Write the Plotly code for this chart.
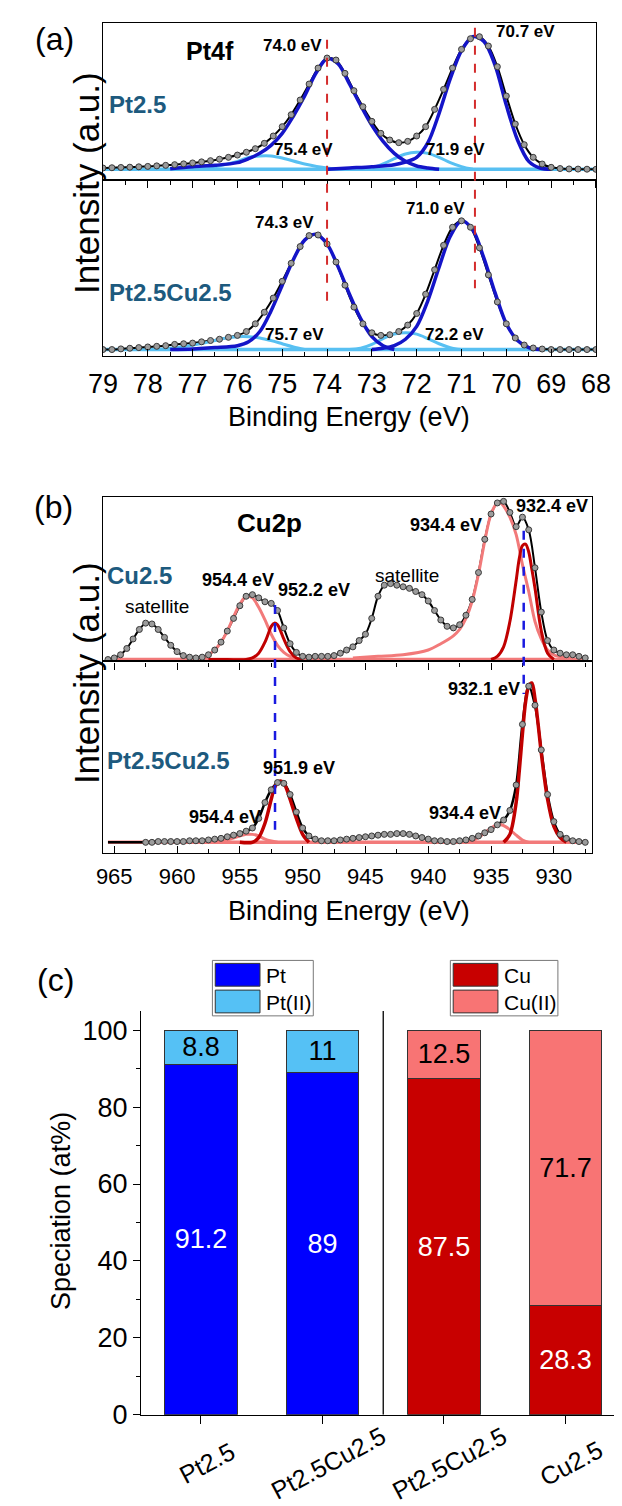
import plotly.graph_objects as go

W, H = 622, 1506
FONT = "Liberation Sans, Arial, sans-serif"
TEAL = "#1d5a7e"
DBLUE = "#1414c8"
LBLUE = "#58c0f2"
DRED = "#c00000"
SALMON = "#f27a7a"

# ---------------- data: panel (a) Pt4f ----------------
pt_energy = [79.0, 78.8, 78.6, 78.4, 78.2, 78.0, 77.8, 77.6, 77.4, 77.2, 77.0, 76.8, 76.6, 76.4,
             76.2, 76.0, 75.8, 75.6, 75.4, 75.2, 75.0, 74.8, 74.6, 74.4, 74.2, 74.0, 73.8, 73.6,
             73.4, 73.2, 73.0, 72.8, 72.6, 72.4, 72.2, 72.0, 71.8, 71.6, 71.4, 71.2, 71.0, 70.8,
             70.6, 70.4, 70.2, 70.0, 69.8, 69.6, 69.4, 69.2, 69.0, 68.8, 68.6, 68.4, 68.2, 68.0]
pt25_data = [0.010, 0.012, 0.014, 0.016, 0.019, 0.022, 0.026, 0.030, 0.035, 0.041, 0.048, 0.056,
             0.065, 0.076, 0.090, 0.107, 0.128, 0.155, 0.195, 0.250, 0.320, 0.410, 0.520, 0.640,
             0.760, 0.835, 0.820, 0.720, 0.590, 0.470, 0.360, 0.270, 0.220, 0.200, 0.210, 0.250,
             0.320, 0.450, 0.600, 0.760, 0.900, 0.980, 0.995, 0.925, 0.770, 0.550, 0.340, 0.185,
             0.090, 0.040, 0.015, 0.006, 0.003, 0.002, 0.001, 0.000]
pt25cu_data = [0.000, 0.000, 0.005, 0.010, 0.015, 0.020, 0.025, 0.030, 0.040, 0.045, 0.050, 0.060,
               0.070, 0.080, 0.095, 0.110, 0.140, 0.200, 0.290, 0.400, 0.530, 0.670, 0.800, 0.885,
               0.890, 0.820, 0.680, 0.500, 0.330, 0.200, 0.130, 0.110, 0.115, 0.140, 0.190, 0.280,
               0.430, 0.620, 0.810, 0.950, 1.000, 0.950, 0.790, 0.580, 0.370, 0.200, 0.090, 0.035,
               0.012, 0.004, 0.000, 0.000, 0.000, 0.000, 0.000, 0.000]

# Pt2.5 fit components
pt25_m1_x = [77.5, 77.0, 76.5, 76.0, 75.75, 75.5, 75.25, 75.0, 74.75, 74.5, 74.25, 74.0, 73.75,
             73.5, 73.25, 73.0, 72.75, 72.5, 72.25, 72.0, 71.75, 71.5]
pt25_m1_y = [0.005, 0.02, 0.03, 0.05, 0.08, 0.12, 0.18, 0.27, 0.40, 0.55, 0.72, 0.83, 0.79,
             0.64, 0.48, 0.33, 0.21, 0.12, 0.06, 0.025, 0.01, 0.0]
pt25_m2_x = [74.0, 73.5, 73.0, 72.5, 72.25, 72.0, 71.75, 71.5, 71.25, 71.0, 70.75, 70.5, 70.25,
             70.0, 69.75, 69.5, 69.25, 69.0]
pt25_m2_y = [0.0, 0.01, 0.02, 0.035, 0.055, 0.09, 0.20, 0.42, 0.68, 0.89, 0.995, 0.96, 0.78,
             0.48, 0.22, 0.06, 0.01, 0.0]
pt25_ii1_x = [77.0, 76.5, 76.0, 75.75, 75.5, 75.25, 75.0, 74.5, 74.0, 73.5]
pt25_ii1_y = [0.0, 0.02, 0.06, 0.09, 0.10, 0.10, 0.085, 0.04, 0.01, 0.0]
pt25_ii2_x = [73.25, 73.0, 72.75, 72.5, 72.25, 72.0, 71.75, 71.5, 71.25, 71.0, 70.75]
pt25_ii2_y = [0.0, 0.01, 0.04, 0.08, 0.115, 0.128, 0.12, 0.09, 0.05, 0.02, 0.0]

# Pt2.5Cu2.5 fit components (Pt4f)
ptcu_m1_x = [77.5, 77.0, 76.5, 76.0, 75.75, 75.5, 75.25, 75.0, 74.75, 74.5, 74.25, 74.0, 73.75,
             73.5, 73.25, 73.0, 72.75, 72.5]
ptcu_m1_y = [0.0, 0.005, 0.015, 0.03, 0.06, 0.14, 0.30, 0.50, 0.70, 0.85, 0.895, 0.82, 0.64,
             0.43, 0.24, 0.10, 0.03, 0.0]
ptcu_m2_x = [73.0, 72.75, 72.5, 72.25, 72.0, 71.75, 71.5, 71.25, 71.0, 70.75, 70.5, 70.25, 70.0,
             69.75, 69.5, 69.25]
ptcu_m2_y = [0.0, 0.01, 0.03, 0.08, 0.18, 0.38, 0.64, 0.88, 1.0, 0.93, 0.71, 0.44, 0.20, 0.07,
             0.015, 0.0]
ptcu_ii1_x = [77.75, 77.25, 76.75, 76.5, 76.25, 76.0, 75.75, 75.5, 75.25, 75.0, 74.75, 74.5]
ptcu_ii1_y = [0.0, 0.02, 0.05, 0.07, 0.09, 0.10, 0.10, 0.09, 0.07, 0.045, 0.02, 0.0]
ptcu_ii2_x = [73.5, 73.25, 73.0, 72.75, 72.5, 72.25, 72.0, 71.75, 71.5, 71.25, 71.0]
ptcu_ii2_y = [0.0, 0.01, 0.04, 0.085, 0.12, 0.13, 0.12, 0.085, 0.045, 0.015, 0.0]

pt_ref_peaks = [74.0, 70.7]

# ---------------- data: panel (b) Cu2p ----------------
cu_energy = [965.5, 965.0, 964.5, 964.0, 963.5, 963.0, 962.5, 962.0, 961.5, 961.0, 960.5, 960.0,
             959.5, 959.0, 958.5, 958.0, 957.5, 957.0, 956.5, 956.0, 955.5, 955.0, 954.5, 954.0,
             953.5, 953.0, 952.5, 952.0, 951.5, 951.0, 950.5, 950.0, 949.5, 949.0, 948.5, 948.0,
             947.5, 947.0, 946.5, 946.0, 945.5, 945.0, 944.5, 944.0, 943.5, 943.0, 942.5, 942.0,
             941.5, 941.0, 940.5, 940.0, 939.5, 939.0, 938.5, 938.0, 937.5, 937.0, 936.5, 936.0,
             935.5, 935.0, 934.5, 934.0, 933.5, 933.0, 932.5, 932.0, 931.5, 931.0, 930.5, 930.0,
             929.5, 929.0, 928.5, 928.0, 927.5]
cu25_data = [0.00, 0.01, 0.03, 0.07, 0.13, 0.19, 0.23, 0.225, 0.19, 0.14, 0.09, 0.05,
             0.025, 0.015, 0.01, 0.015, 0.03, 0.06, 0.11, 0.18, 0.26, 0.34, 0.40, 0.41,
             0.39, 0.365, 0.355, 0.31, 0.20, 0.10, 0.045, 0.02, 0.015, 0.02, 0.02, 0.02,
             0.025, 0.04, 0.06, 0.08, 0.12, 0.16, 0.26, 0.40, 0.47, 0.48, 0.47, 0.46,
             0.45, 0.43, 0.41, 0.37, 0.31, 0.25, 0.21, 0.20, 0.22, 0.28, 0.38, 0.55,
             0.76, 0.92, 0.99, 1.00, 0.93, 0.84, 0.90, 0.82, 0.58, 0.30, 0.12, 0.06,
             0.04, 0.03, 0.03, 0.02, 0.01]
ptcu_cu_data = [0.0, 0.0, 0.0, 0.0, 0.0, 0.0, 0.0, 0.0, 0.005, 0.005, 0.005, 0.005,
                0.005, 0.01, 0.01, 0.01, 0.015, 0.02, 0.025, 0.035, 0.045, 0.055, 0.07, 0.09,
                0.15, 0.25, 0.33, 0.375, 0.37, 0.30, 0.19, 0.09, 0.04, 0.02, 0.01, 0.01,
                0.01, 0.015, 0.02, 0.025, 0.03, 0.035, 0.04, 0.045, 0.05, 0.05, 0.055, 0.055,
                0.05, 0.04, 0.03, 0.02, 0.01, 0.01, 0.005, 0.005, 0.01, 0.015, 0.025, 0.04,
                0.06, 0.08, 0.11, 0.14, 0.20, 0.36, 0.74, 0.98, 0.86, 0.58, 0.30, 0.13,
                0.05, 0.025, 0.01, 0.005, 0.0]
ptcu_cu_first_point = 962.5   # measured points start here

cu25_ii1_x = [958.5, 958.0, 957.5, 957.0, 956.5, 956.0, 955.5, 955.0, 954.5, 954.0, 953.5, 953.0,
              952.5, 952.0, 951.5, 951.0, 950.5, 950.0]
cu25_ii1_y = [0.0, 0.01, 0.03, 0.06, 0.11, 0.18, 0.27, 0.35, 0.40, 0.39, 0.33, 0.25,
              0.16, 0.09, 0.045, 0.02, 0.005, 0.0]
cu25_m1_x = [957.5, 956.0, 954.5, 954.0, 953.5, 953.0, 952.75, 952.5, 952.25, 952.0, 951.75,
             951.5, 951.0, 950.5, 950.0]
cu25_m1_y = [0.0, 0.0, 0.0, 0.01, 0.04, 0.11, 0.16, 0.21, 0.23, 0.22, 0.18, 0.13, 0.05, 0.01, 0.0]
cu25_ii2_x = [946.0, 944.0, 942.0, 940.0, 939.0, 938.0, 937.5, 937.0, 936.5, 936.0, 935.5, 935.0,
              934.5, 934.25, 934.0, 933.5, 933.0, 932.5, 932.0, 931.5, 931.0, 930.5, 930.0,
              929.0, 928.0]
cu25_ii2_y = [0.01, 0.02, 0.03, 0.06, 0.10, 0.15, 0.19, 0.26, 0.37, 0.54, 0.75, 0.92,
              0.99, 0.99, 0.97, 0.90, 0.79, 0.60, 0.43, 0.24, 0.13, 0.06, 0.03, 0.01, 0.0]
cu25_m2_x = [935.0, 934.5, 934.0, 933.5, 933.0, 932.75, 932.5, 932.25, 932.0, 931.75, 931.5,
             931.0, 930.5, 930.0]
cu25_m2_y = [0.0, 0.02, 0.08, 0.24, 0.50, 0.64, 0.72, 0.73, 0.68, 0.57, 0.45, 0.18, 0.04, 0.0]

ptcu_cu_m1_x = [955.0, 954.0, 953.5, 953.0, 952.5, 952.25, 952.0, 951.75, 951.5, 951.25, 951.0,
                950.5, 950.0, 949.5]
ptcu_cu_m1_y = [0.0, 0.0, 0.03, 0.12, 0.27, 0.34, 0.375, 0.385, 0.37, 0.33, 0.27, 0.15, 0.05, 0.0]
ptcu_cu_ii1_x = [957.0, 956.0, 955.0, 954.5, 954.0, 953.5, 953.0, 952.5, 952.0]
ptcu_cu_ii1_y = [0.0, 0.015, 0.04, 0.05, 0.05, 0.04, 0.02, 0.008, 0.0]
ptcu_cu_m2_x = [934.0, 933.5, 933.0, 932.75, 932.5, 932.25, 932.0, 931.75, 931.5, 931.25, 931.0,
                930.5, 930.0, 929.5, 929.0]
ptcu_cu_m2_y = [0.0, 0.05, 0.25, 0.45, 0.68, 0.88, 0.98, 1.0, 0.90, 0.74, 0.56, 0.27, 0.10,
                0.03, 0.0]
ptcu_cu_ii2_x = [937.0, 936.5, 936.0, 935.5, 935.0, 934.5, 934.25, 934.0, 933.5, 933.0, 932.5,
                 932.0]
ptcu_cu_ii2_y = [0.0, 0.01, 0.03, 0.06, 0.09, 0.11, 0.11, 0.105, 0.08, 0.045, 0.015, 0.0]

cu_ref_peaks = [952.2, 932.4]

# ---------------- data: panel (c) speciation ----------------
samples = ["Pt2.5", "Pt2.5Cu2.5", "Pt2.5Cu2.5", "Cu2.5"]
pt_pos = [0, 1]
pt_metal = [91.2, 89]
pt_ox = [8.8, 11]
cu_pos = [2, 3]
cu_metal = [87.5, 28.3]
cu_ox = [12.5, 71.7]

# ---------------- helpers ----------------
def px(x):
    return x / W


def py(y):
    return 1 - y / H


fig = go.Figure()


def line(x, y, color, width, ax, name):
    fig.add_trace(go.Scatter(x=x, y=y, mode="lines", xaxis=ax[0], yaxis=ax[1], name=name,
                             line=dict(color=color, width=width, shape="spline", smoothing=0.9),
                             showlegend=False, hoverinfo="skip"))


def points(x, y, ax, name):
    fig.add_trace(go.Scatter(x=x, y=y, mode="markers", xaxis=ax[0], yaxis=ax[1], name=name,
                             marker=dict(size=6, color="#9c9c9c", line=dict(color="#3a3a3a", width=1)),
                             showlegend=False))


def baseline(xs, color, ax):
    fig.add_trace(go.Scatter(x=[xs[0], xs[-1]], y=[0, 0], mode="lines", xaxis=ax[0], yaxis=ax[1],
                             line=dict(color=color, width=3.5), showlegend=False, hoverinfo="skip"))


A1, A2, B1, B2 = ("x", "y"), ("x2", "y2"), ("x3", "y3"), ("x4", "y4")

# panel a top: Pt2.5
baseline(pt_energy, LBLUE, A1)
line(pt_energy, pt25_data, "black", 2, A1, "envelope")
line(pt25_ii1_x, pt25_ii1_y, LBLUE, 3, A1, "Pt(II)")
line(pt25_ii2_x, pt25_ii2_y, LBLUE, 3, A1, "Pt(II)")
line(pt25_m1_x, pt25_m1_y, DBLUE, 3.5, A1, "Pt")
line(pt25_m2_x, pt25_m2_y, DBLUE, 3.5, A1, "Pt")
points(pt_energy, pt25_data, A1, "Pt2.5")

# panel a bottom: Pt2.5Cu2.5
baseline(pt_energy, LBLUE, A2)
line(pt_energy, pt25cu_data, "black", 2, A2, "envelope")
line(ptcu_ii1_x, ptcu_ii1_y, LBLUE, 3, A2, "Pt(II)")
line(ptcu_ii2_x, ptcu_ii2_y, LBLUE, 3, A2, "Pt(II)")
line(ptcu_m1_x, ptcu_m1_y, DBLUE, 3.5, A2, "Pt")
line(ptcu_m2_x, ptcu_m2_y, DBLUE, 3.5, A2, "Pt")
points(pt_energy, pt25cu_data, A2, "Pt2.5Cu2.5")

# panel b top: Cu2.5
baseline(cu_energy, SALMON, B1)
line(cu_energy, cu25_data, "black", 2, B1, "envelope")
line(cu25_ii1_x, cu25_ii1_y, SALMON, 3, B1, "Cu(II)")
line(cu25_ii2_x, cu25_ii2_y, SALMON, 3, B1, "Cu(II)")
line(cu25_m1_x, cu25_m1_y, DRED, 3, B1, "Cu")
line(cu25_m2_x, cu25_m2_y, DRED, 3, B1, "Cu")
points(cu_energy, cu25_data, B1, "Cu2.5")

# panel b bottom: Pt2.5Cu2.5
baseline(cu_energy, SALMON, B2)
line(cu_energy, ptcu_cu_data, "black", 2.5, B2, "envelope")
line(ptcu_cu_ii1_x, ptcu_cu_ii1_y, SALMON, 3, B2, "Cu(II)")
line(ptcu_cu_ii2_x, ptcu_cu_ii2_y, SALMON, 3, B2, "Cu(II)")
line(ptcu_cu_m1_x, ptcu_cu_m1_y, DRED, 3.5, B2, "Cu")
line(ptcu_cu_m2_x, ptcu_cu_m2_y, DRED, 3.5, B2, "Cu")
sel = [i for i, e in enumerate(cu_energy) if e <= ptcu_cu_first_point]
points([cu_energy[i] for i in sel], [ptcu_cu_data[i] for i in sel], B2, "Pt2.5Cu2.5")

# panel c: stacked bars
bar_kw = dict(xaxis="x5", yaxis="y5", width=0.6, texttemplate="%{y}", textposition="inside",
              insidetextanchor="middle", textangle=0, constraintext="none", showlegend=False)
fig.add_trace(go.Bar(x=pt_pos, y=pt_metal, name="Pt", marker=dict(color="#0000ff", line=dict(color="#333", width=1)),
                     textfont=dict(color="white", size=27, family=FONT), **bar_kw))
fig.add_trace(go.Bar(x=pt_pos, y=pt_ox, name="Pt(II)", marker=dict(color="#55c1f5", line=dict(color="#333", width=1)),
                     textfont=dict(color="black", size=27, family=FONT), **bar_kw))
fig.add_trace(go.Bar(x=cu_pos, y=cu_metal, name="Cu", marker=dict(color="#c80000", line=dict(color="#333", width=1)),
                     textfont=dict(color="white", size=27, family=FONT), **bar_kw))
fig.add_trace(go.Bar(x=cu_pos, y=cu_ox, name="Cu(II)", marker=dict(color="#f87474", line=dict(color="#333", width=1)),
                     textfont=dict(color="black", size=27, family=FONT), **bar_kw))

# ---------------- axes ----------------
def frame(**kw):
    d = dict(showline=True, linecolor="black", linewidth=1.3, mirror=True, showgrid=False,
             zeroline=False, tickcolor="black", tickwidth=1.2,
             tickfont=dict(family=FONT, size=27, color="black"))
    d.update(kw)
    return d


ax_a = [px(84), px(602)]
ax_b = [px(84), px(598)]
noy = dict(showticklabels=False, ticks="")
layout_axes = dict(
    xaxis=frame(domain=ax_a, anchor="y", range=[79, 68], ticks="outside", ticklen=7, dtick=1,
                tick0=68, showticklabels=False,
                minor=dict(dtick=0.5, ticklen=4, ticks="outside", tickcolor="black")),
    yaxis=frame(domain=[py(174), py(15)], anchor="x", range=[-0.082, 1.099], **noy),
    xaxis2=frame(domain=ax_a, anchor="y2", range=[79, 68], ticks="inside", ticklen=7, dtick=1,
                 tick0=68, ticklabelstandoff=3,
                 minor=dict(dtick=0.5, ticklen=4, ticks="inside", tickcolor="black")),
    yaxis2=frame(domain=[py(352), py(174)], anchor="x2", range=[-0.054, 1.315], **noy),
    xaxis3=frame(domain=ax_b, anchor="y3", range=[965.9, 926.95], ticks="outside", ticklen=7,
                 dtick=5, tick0=930, showticklabels=False,
                 minor=dict(dtick=2.5, ticklen=4, ticks="outside", tickcolor="black")),
    yaxis3=frame(domain=[py(660), py(494)], anchor="x3", range=[-0.012, 1.027], **noy),
    xaxis4=frame(domain=ax_b, anchor="y4", range=[965.9, 926.95], ticks="inside", ticklen=7,
                 dtick=5, tick0=930, ticklabelstandoff=3,
                 tickfont=dict(family=FONT, size=22, color="black"),
                 minor=dict(dtick=2.5, ticklen=4, ticks="inside", tickcolor="black")),
    yaxis4=frame(domain=[py(854), py(660)], anchor="x4", range=[-0.07, 1.135], **noy),
    xaxis5=dict(domain=[px(124), 1.0], anchor="y5", range=[-0.493, 3.407], showline=True,
                linecolor="black", linewidth=1.3, showgrid=False, zeroline=False,
                tickvals=pt_pos + cu_pos, ticks="outside", ticklen=8, tickcolor="black",
                tickwidth=1.2, showticklabels=False),
    yaxis5=dict(domain=[py(1421), py(1013)], anchor="x5", range=[0, 105], showline=True,
                linecolor="black", linewidth=1.3, showgrid=False, zeroline=False,
                tickvals=[0, 20, 40, 60, 80, 100], ticks="outside", ticklen=7, tickcolor="black",
                tickwidth=1.2, tickfont=dict(family=FONT, size=27, color="black"),
                minor=dict(tickvals=[10, 30, 50, 70, 90], ticklen=4, ticks="outside", tickcolor="black")),
)

# ---------------- shapes ----------------
shapes = []
red_extent = [(32, 300), (20, 283)]
for e, (y0, y1) in zip(pt_ref_peaks, red_extent):
    shapes.append(dict(type="line", xref="x", yref="paper", x0=e, x1=e, y0=py(y0), y1=py(y1),
                       line=dict(color="#d42c2c", width=2, dash="dash")))
blue_extent = [(603, 830), (528, 693)]
for e, (y0, y1) in zip(cu_ref_peaks, blue_extent):
    shapes.append(dict(type="line", xref="x3", yref="paper", x0=e, x1=e, y0=py(y0), y1=py(y1),
                       line=dict(color="#1a1ae0", width=2.5, dash="dash")))
# separator between Pt and Cu groups
sep = (pt_pos[-1] + cu_pos[0]) / 2
shapes.append(dict(type="line", xref="x5", yref="y5", x0=sep, x1=sep, y0=0, y1=105,
                   line=dict(color="black", width=1.3)))

annotations = []


def ann(text, x, y, xref="paper", size=16, color="black", xanchor="center", angle=0,
        xshift=0):
    annotations.append(dict(text=text, x=x, y=py(y), xref=xref, yref="paper", showarrow=False,
                            xanchor=xanchor, yanchor="middle", textangle=angle, xshift=xshift,
                            font=dict(family=FONT, size=size, color=color)))


# legend boxes (drawn as key boxes)
legend_boxes = [
    (199, 305, [("Pt", "#0000ff"), ("Pt(II)", "#55c1f5")]),
    (449, 562, [("Cu", "#c80000"), ("Cu(II)", "#f87474")]),
]
for x0, x1, items in legend_boxes:
    shapes.append(dict(type="rect", xref="paper", yref="paper", x0=px(x0), x1=px(x1),
                       y0=py(1018), y1=py(962), line=dict(color="#777", width=1), fillcolor="white"))
    for k, (lab, col) in enumerate(items):
        top = 965 + k * 27
        shapes.append(dict(type="rect", xref="paper", yref="paper", x0=px(x0 + 3), x1=px(x0 + 50),
                           y0=py(top + 23), y1=py(top), line=dict(color="#333", width=1),
                           fillcolor=col))
        ann(lab, px(x0 + 54), top + 12, size=21, xanchor="left")


def note(text, x, y, xref, size=17, color="black", xanchor="center"):
    ann(f"<b>{text}</b>", x, y, xref=xref, size=size, color=color, xanchor=xanchor)


# panel (a) labels
note("Pt4f", 76.62, 43, "x", size=25)
note("74.0 eV", 74.76, 38, "x")
note("70.7 eV", 69.58, 24, "x")
note("75.4 eV", 74.52, 143, "x")
note("71.9 eV", 71.13, 143, "x")
note("Pt2.5", 78.92, 97, "x", size=24, color=TEAL, xanchor="left")
note("74.3 eV", 74.95, 217, "x")
note("71.0 eV", 71.58, 203, "x")
note("Pt2.5Cu2.5", 78.92, 287, "x", size=24, color=TEAL, xanchor="left")
note("75.7 eV", 74.73, 330, "x")
note("72.2 eV", 71.15, 330, "x")

# panel (b) labels
note("Cu2p", 952.67, 520, "x3", size=26)
note("Cu2.5", 965.7, 573, "x3", size=24, color=TEAL, xanchor="left")
ann("satellite", 961.6, 605, xref="x3", size=19)
note("954.4 eV", 955.15, 578, "x3", size=18)
note("952.2 eV", 949.1, 588, "x3", size=18)
ann("satellite", 941.67, 573, xref="x3", size=19)
note("934.4 eV", 938.6, 522, "x3", size=18)
note("932.4 eV", 930.15, 503, "x3", size=18)
note("932.1 eV", 935.55, 688, "x4", size=18)
note("Pt2.5Cu2.5", 965.7, 760, "x4", size=24, color=TEAL, xanchor="left")
note("951.9 eV", 950.3, 768, "x4", size=18)
note("954.4 eV", 956.2, 817, "x4", size=18)
note("934.4 eV", 937.06, 813, "x4", size=18)

# panel letters and axis titles
for lab, (x, y) in {"(a)": (33, 31), "(b)": (32, 504), "(c)": (34, 982)}.items():
    ann(lab, px(x), y, size=32)
for y in (177, 672):
    ann("Intensity (a.u.)", px(66), y, size=35, angle=-90)
for y in (413, 912):
    ann("Binding Energy (eV)", px(343), y, size=27)
ann("Speciation (at%)", px(40), 1215, size=27, angle=-90)
for i, s in enumerate(samples):
    ann(s, i, 1470, xref="x5", size=25, angle=-28, xshift=6)

fig.update_layout(
    width=W, height=H, autosize=False, margin=dict(l=0, r=0, t=0, b=0),
    paper_bgcolor="white", plot_bgcolor="white", barmode="stack", bargap=0.4,
    shapes=shapes, annotations=annotations, showlegend=False,
    font=dict(family=FONT, color="black"),
    **layout_axes,
)

fig.write_html("out.html")
